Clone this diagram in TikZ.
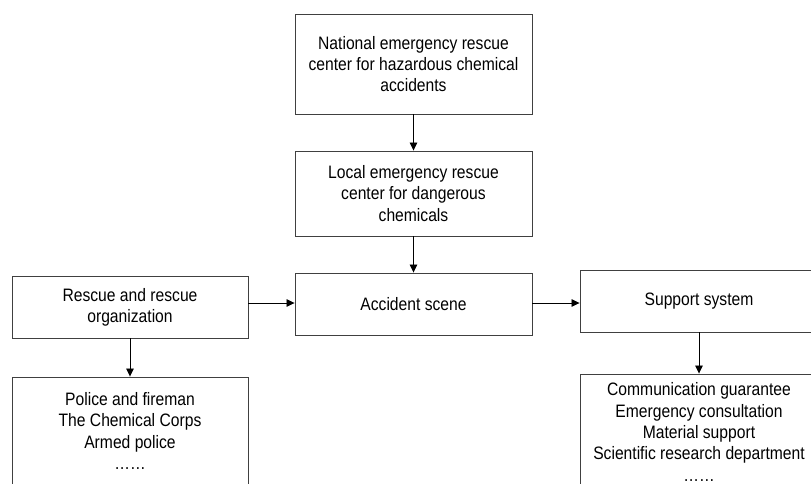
\documentclass[tikz,border=0pt]{standalone}
\usepackage{fontspec}
\setmainfont[FakeStretch=0.87]{Liberation Sans}
\usetikzlibrary{arrows.meta}
\definecolor{boxline}{HTML}{404040}
\tikzset{
  box/.style={draw=boxline, line width=0.9pt, rectangle, align=center, inner sep=2pt,
    font=\fontsize{18}{21.3}\selectfont},
  arr/.style={draw=black, line width=0.8pt, -{Triangle[length=8pt,width=7.5pt]}}
}
\begin{document}
\begin{tikzpicture}[x=1pt,y=-1pt]
\useasboundingbox (0,0) rectangle (811,484);
\clip (0,0) rectangle (811,484);
\node[box, minimum width=237pt, minimum height=100pt] (nat) at (413.5,64)
  {National emergency rescue\\center for hazardous chemical\\accidents};
\node[box, minimum width=237pt, minimum height=85pt] (loc) at (413.5,193.5)
  {Local emergency rescue\\center for dangerous\\chemicals};
\node[box, minimum width=237pt, minimum height=62pt] (acc) at (413.5,304)
  {Accident scene};
\node[box, minimum width=236pt, minimum height=62pt] (res) at (130,307)
  {Rescue and rescue\\organization};
\node[box, minimum width=238pt, minimum height=62pt] (sup) at (699,301)
  {Support system};
\node[box, minimum width=236pt, minimum height=108pt] (pol) at (130,431)
  {Police and fireman\\The Chemical Corps\\Armed police\\……};
\node[box, minimum width=238pt, minimum height=116pt] (com) at (699,432)
  {Communication guarantee\\Emergency consultation\\Material support\\Scientific research department\\……};
\draw[arr] (nat) -- (loc);
\draw[arr] (loc) -- (acc);
\draw[arr] (res.east |- 0,303) -- (acc.west |- 0,303);
\draw[arr] (acc.east |- 0,303) -- (sup.west |- 0,303);
\draw[arr] (res.south) -- (pol.north);
\draw[arr] (sup.south) -- (com.north);
\end{tikzpicture}
\end{document}
